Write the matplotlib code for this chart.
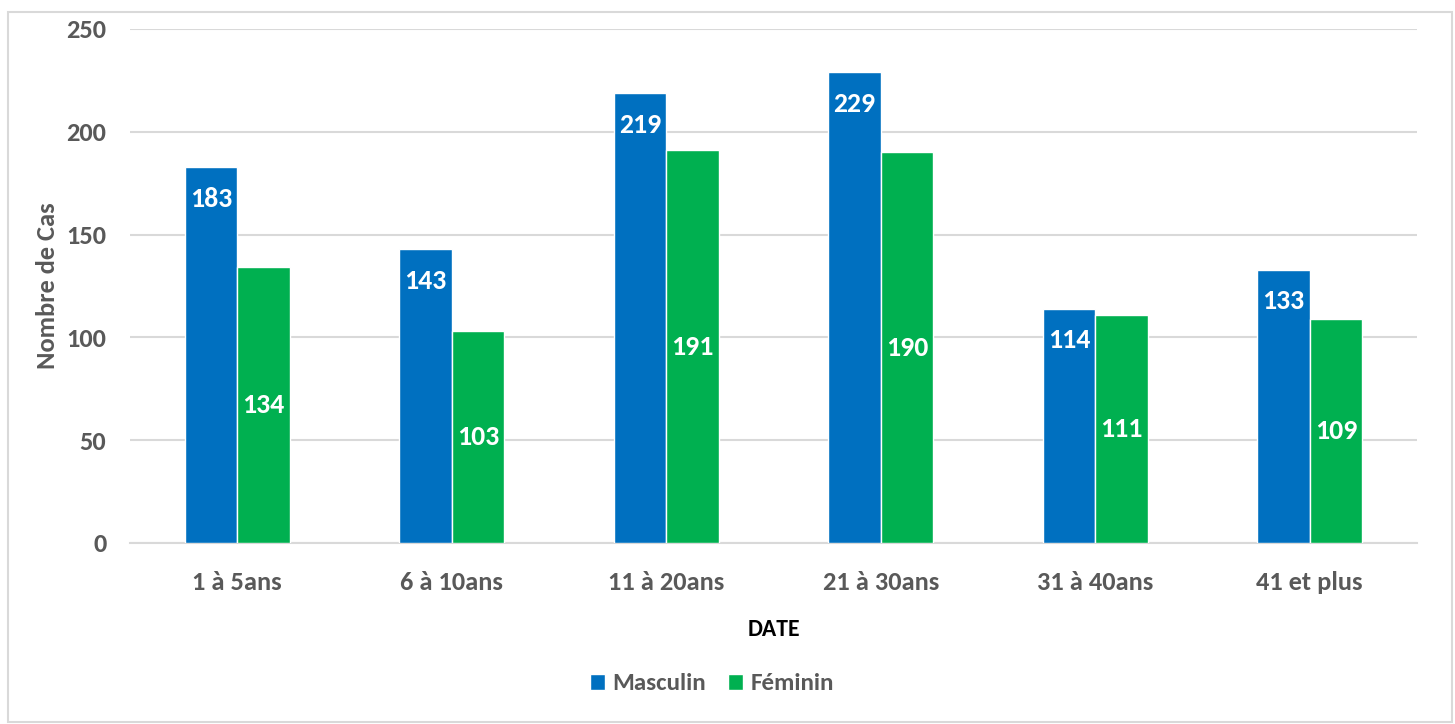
import matplotlib
matplotlib.use("Agg")
import matplotlib.pyplot as plt
from matplotlib import font_manager
from matplotlib.patches import Rectangle
import numpy as np

categories = ["1 à 5ans", "6 à 10ans", "11 à 20ans", "21 à 30ans", "31 à 40ans", "41 et plus"]
masculin = [183, 143, 219, 229, 114, 133]
feminin = [134, 103, 191, 190, 111, 109]
yticks = [0, 50, 100, 150, 200, 250]

names = {f.name for f in font_manager.fontManager.ttflist}
fam = [n for n in ["Carlito", "Liberation Sans Narrow", "Roboto Condensed", "Open Sans", "DejaVu Sans"] if n in names]
plt.rcParams['font.family'] = fam + ["DejaVu Sans"]

W, H = 1455, 724
fig = plt.figure(figsize=(W / 100, H / 100), dpi=100)
fig.patches.append(Rectangle((8 / W, 1 - 722 / H), (1452 - 8) / W, (722 - 12) / H,
                             transform=fig.transFigure, fill=False, edgecolor="#D9D9D9", lw=1.5))
ax = fig.add_axes([130 / W, 1 - 543 / H, (1417 - 130) / W, (543 - 29) / H])

blue = "#0070C0"
green = "#00B050"
x = np.arange(len(categories))
bw = 0.245
b1 = ax.bar(x - bw / 2, masculin, bw, color=blue, edgecolor="white", linewidth=1, label="Masculin", zorder=3)
b2 = ax.bar(x + bw / 2, feminin, bw, color=green, edgecolor="white", linewidth=1, label="Féminin", zorder=3)

for r, v in zip(b1, masculin):
    ax.text(r.get_x() + r.get_width() / 2, v - 15.5, str(v), ha="center", va="center",
            color="white", fontsize=20, fontweight="bold", zorder=4)
for r, v in zip(b2, feminin):
    ax.text(r.get_x() + r.get_width() / 2, v / 2, str(v), ha="center", va="center",
            color="white", fontsize=20, fontweight="bold", zorder=4)

ax.set_xlim(-0.5, len(categories) - 0.5)
ax.set_ylim(0, 250)
ax.set_yticks(yticks)
ax.set_xticks(x)
ax.set_xticklabels(categories)
ax.yaxis.grid(True, color="#D9D9D9", linewidth=1.5, zorder=0)
ax.set_axisbelow(True)
for s in ["top", "right", "left"]:
    ax.spines[s].set_visible(False)
ax.spines["bottom"].set_color("#D9D9D9")
ax.spines["bottom"].set_linewidth(1.5)
ax.tick_params(axis="both", length=0, labelsize=19, labelcolor="#595959")
ax.tick_params(axis="y", pad=17)
ax.tick_params(axis="x", pad=20)
for lab in ax.get_xticklabels() + ax.get_yticklabels():
    lab.set_fontweight("bold")

ax.set_xlabel("DATE", fontsize=17, fontweight="bold", color="black", labelpad=18)
ax.set_ylabel("Nombre de Cas", fontsize=19, fontweight="bold", color="#595959", labelpad=5)

leg = fig.legend(handles=[b1, b2], labels=["Masculin", "Féminin"], loc="center",
                 bbox_to_anchor=(712 / W, 1 - 684 / H), ncol=2, frameon=False,
                 fontsize=18, handlelength=0.6, handleheight=0.6, handletextpad=0.3,
                 columnspacing=0.9)
for t in leg.get_texts():
    t.set_color("#595959")
    t.set_fontweight("bold")

fig.savefig("out.png", dpi=100)
